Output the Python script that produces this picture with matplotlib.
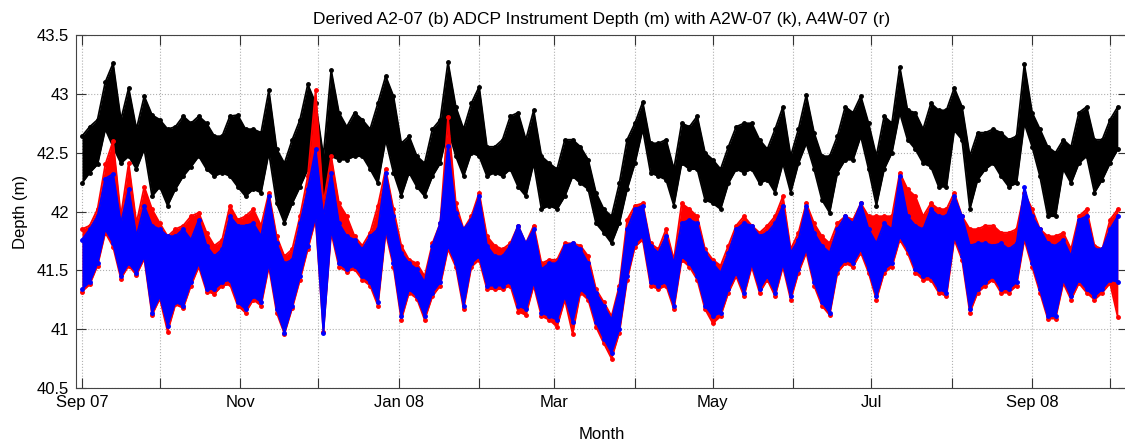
import numpy as np
import matplotlib
matplotlib.use("Agg")
import matplotlib.pyplot as plt

plt.rcParams['font.family'] = ['Liberation Sans', 'DejaVu Sans']

# envelopes (upper / lower) read every 3 days from 1 Sep 2007
start = np.datetime64('2007-09-01')
step_days = 3

# A2W-07 (k)
black_hi = [42.64, 42.72, 42.78, 43.10, 43.26, 42.78, 43.05, 42.70, 42.98, 42.82,
            42.78, 42.70, 42.72, 42.81, 42.75, 42.81, 42.75, 42.64, 42.64, 42.81,
            42.82, 42.70, 42.70, 42.67, 43.03, 42.53, 42.41, 42.61, 42.78, 43.08,
            42.92, 42.47, 43.20, 42.84, 42.72, 42.84, 42.78, 42.70, 42.92, 43.15,
            42.98, 42.58, 42.64, 42.47, 42.41, 42.70, 42.78, 43.27, 42.89, 42.70,
            42.92, 43.06, 42.55, 42.55, 42.61, 42.81, 42.84, 42.61, 42.86, 42.47,
            42.41, 42.36, 42.61, 42.61, 42.55, 42.44, 42.16, 42.02, 41.96, 42.24,
            42.61, 42.75, 42.93, 42.58, 42.58, 42.61, 42.36, 42.75, 42.72, 42.81,
            42.50, 42.44, 42.36, 42.55, 42.72, 42.75, 42.75, 42.61, 42.53, 42.70,
            42.89, 42.47, 42.70, 42.99, 42.67, 42.47, 42.47, 42.64, 42.89, 42.84,
            42.98, 42.75, 42.47, 42.81, 42.75, 43.23, 42.86, 42.84, 42.70, 42.92,
            42.86, 42.86, 43.05, 42.89, 42.47, 42.67, 42.67, 42.70, 42.67, 42.61,
            42.64, 43.25, 42.84, 42.70, 42.55, 42.50, 42.61, 42.55, 42.84, 42.89,
            42.61, 42.61, 42.78, 42.89]
black_lo = [42.24, 42.33, 42.40, 42.70, 42.55, 42.41, 42.47, 42.36, 42.53, 42.13,
            42.21, 42.05, 42.19, 42.30, 42.38, 42.47, 42.36, 42.30, 42.33, 42.30,
            42.21, 42.13, 42.19, 42.16, 42.50, 42.07, 41.90, 42.07, 42.21, 42.36,
            42.33, 42.02, 42.47, 42.44, 42.44, 42.47, 42.47, 42.36, 42.24, 42.61,
            42.33, 42.13, 42.33, 42.21, 42.13, 42.30, 42.41, 42.70, 42.47, 42.30,
            42.50, 42.47, 42.30, 42.33, 42.30, 42.36, 42.21, 42.13, 42.41, 42.02,
            42.05, 42.02, 42.13, 42.30, 42.24, 42.19, 41.90, 41.82, 41.73, 41.90,
            42.19, 42.41, 42.70, 42.33, 42.30, 42.27, 42.05, 42.41, 42.36, 42.36,
            42.10, 42.07, 42.02, 42.24, 42.36, 42.33, 42.36, 42.24, 42.27, 42.16,
            42.41, 42.16, 42.41, 42.58, 42.36, 42.10, 41.99, 42.33, 42.44, 42.44,
            42.64, 42.36, 42.05, 42.36, 42.50, 42.84, 42.61, 42.53, 42.41, 42.38,
            42.21, 42.21, 42.69, 42.61, 42.02, 42.27, 42.36, 42.41, 42.30, 42.21,
            42.24, 42.75, 42.55, 42.30, 41.96, 41.96, 42.36, 42.24, 42.41, 42.47,
            42.16, 42.27, 42.41, 42.53]

# A4W-07 (r)
red_hi = [41.85, 41.88, 42.02, 42.40, 42.60, 41.96, 42.41, 41.90, 42.21, 42.02,
          41.90, 41.79, 41.85, 41.88, 41.96, 41.99, 41.82, 41.71, 41.76, 42.05,
          41.93, 41.96, 42.02, 41.88, 42.16, 41.79, 41.62, 41.68, 41.96, 42.30,
          43.03, 42.07, 42.47, 42.07, 41.96, 41.79, 41.71, 41.82, 42.05, 42.36,
          42.02, 41.71, 41.59, 41.56, 41.45, 41.73, 41.90, 42.80, 42.07, 41.85,
          41.96, 42.16, 41.79, 41.71, 41.68, 41.73, 41.88, 41.73, 41.88, 41.56,
          41.59, 41.59, 41.73, 41.73, 41.71, 41.62, 41.34, 41.23, 41.11, 41.37,
          41.93, 42.05, 42.07, 41.73, 41.68, 41.85, 41.59, 42.07, 42.02, 41.96,
          41.68, 41.59, 41.54, 41.71, 41.88, 41.96, 41.88, 41.82, 41.88, 41.96,
          42.13, 41.68, 41.82, 42.07, 41.90, 41.79, 41.73, 41.90, 41.96, 41.93,
          42.07, 41.96, 41.96, 41.96, 41.96, 42.33, 42.19, 42.13, 41.96, 42.07,
          42.02, 42.02, 42.16, 41.96, 41.85, 41.85, 41.88, 41.88, 41.82, 41.82,
          41.85, 42.16, 42.02, 41.85, 41.79, 41.79, 41.82, 41.68, 41.96, 42.02,
          41.71, 41.68, 41.93, 42.02]
red_lo = [41.32, 41.38, 41.54, 41.82, 41.70, 41.43, 41.54, 41.46, 41.60, 41.12,
          41.26, 40.98, 41.21, 41.18, 41.37, 41.53, 41.32, 41.30, 41.37, 41.38,
          41.20, 41.14, 41.25, 41.20, 41.53, 41.14, 40.96, 41.18, 41.42, 41.68,
          41.93, 40.98, 41.82, 41.53, 41.49, 41.51, 41.42, 41.37, 41.20, 41.82,
          41.53, 41.08, 41.31, 41.26, 41.08, 41.28, 41.37, 41.68, 41.53, 41.17,
          41.53, 41.59, 41.34, 41.34, 41.34, 41.37, 41.15, 41.12, 41.37, 41.11,
          41.08, 41.02, 41.25, 40.96, 41.31, 41.25, 41.02, 40.88, 40.75, 40.97,
          41.42, 41.70, 41.76, 41.37, 41.34, 41.37, 41.17, 41.59, 41.53, 41.42,
          41.17, 41.05, 41.11, 41.31, 41.45, 41.28, 41.53, 41.31, 41.42, 41.28,
          41.53, 41.25, 41.48, 41.65, 41.37, 41.20, 41.12, 41.48, 41.56, 41.53,
          41.65, 41.48, 41.25, 41.48, 41.53, 41.76, 41.65, 41.48, 41.42, 41.42,
          41.31, 41.28, 41.76, 41.59, 41.14, 41.31, 41.37, 41.42, 41.31, 41.31,
          41.37, 41.76, 41.53, 41.31, 41.09, 41.09, 41.39, 41.25, 41.39, 41.31,
          41.25, 41.31, 41.39, 41.10]

# A2-07 (b) derived ADCP depth
blue_hi = [41.76, 41.85, 41.96, 42.28, 42.32, 41.90, 42.19, 41.79, 42.05, 41.88,
           41.85, 41.79, 41.79, 41.85, 41.76, 41.93, 41.71, 41.62, 41.68, 41.96,
           41.88, 41.88, 41.90, 41.79, 42.13, 41.73, 41.56, 41.59, 41.90, 42.19,
           42.53, 41.96, 42.33, 41.90, 41.79, 41.76, 41.68, 41.79, 41.85, 42.33,
           41.96, 41.65, 41.56, 41.51, 41.40, 41.71, 41.90, 42.56, 41.99, 41.85,
           41.93, 42.13, 41.71, 41.62, 41.62, 41.71, 41.88, 41.73, 41.85, 41.51,
           41.56, 41.56, 41.71, 41.73, 41.68, 41.56, 41.31, 41.20, 41.08, 41.34,
           41.85, 42.02, 42.05, 41.71, 41.65, 41.79, 41.56, 41.90, 41.93, 41.90,
           41.65, 41.56, 41.48, 41.65, 41.85, 41.90, 41.88, 41.79, 41.82, 41.90,
           42.05, 41.65, 41.76, 42.05, 41.82, 41.71, 41.65, 41.85, 41.96, 41.90,
           42.07, 41.85, 41.73, 41.90, 41.85, 42.30, 41.96, 41.88, 41.85, 42.02,
           41.96, 41.96, 42.13, 41.96, 41.71, 41.73, 41.73, 41.71, 41.73, 41.68,
           41.73, 42.21, 41.96, 41.85, 41.73, 41.71, 41.76, 41.62, 41.93, 41.96,
           41.68, 41.68, 41.85, 41.96]
blue_lo = [41.34, 41.40, 41.56, 41.85, 41.73, 41.45, 41.56, 41.48, 41.62, 41.14,
           41.28, 41.03, 41.23, 41.20, 41.40, 41.56, 41.34, 41.34, 41.40, 41.42,
           41.23, 41.17, 41.28, 41.23, 41.56, 41.17, 40.97, 41.20, 41.45, 41.71,
           41.96, 40.97, 41.85, 41.56, 41.51, 41.54, 41.45, 41.40, 41.23, 41.85,
           41.56, 41.11, 41.34, 41.28, 41.11, 41.31, 41.40, 41.71, 41.56, 41.20,
           41.56, 41.62, 41.37, 41.37, 41.37, 41.40, 41.20, 41.17, 41.40, 41.14,
           41.11, 41.08, 41.28, 41.06, 41.34, 41.28, 41.06, 40.92, 40.80, 41.00,
           41.45, 41.73, 41.79, 41.40, 41.37, 41.40, 41.20, 41.62, 41.56, 41.45,
           41.20, 41.11, 41.14, 41.34, 41.48, 41.31, 41.56, 41.34, 41.45, 41.31,
           41.56, 41.28, 41.51, 41.68, 41.40, 41.23, 41.14, 41.51, 41.59, 41.56,
           41.68, 41.51, 41.28, 41.51, 41.56, 41.79, 41.68, 41.51, 41.45, 41.45,
           41.34, 41.31, 41.79, 41.62, 41.17, 41.34, 41.40, 41.45, 41.34, 41.34,
           41.40, 41.79, 41.56, 41.34, 41.11, 41.11, 41.42, 41.28, 41.42, 41.34,
           41.28, 41.34, 41.42, 41.40]

tick_months = ['2007-09', '2007-10', '2007-11', '2007-12', '2008-01', '2008-02', '2008-03',
               '2008-04', '2008-05', '2008-06', '2008-07', '2008-08', '2008-09', '2008-10']
tick_labels = ['Sep 07', '', 'Nov', '', 'Jan 08', '', 'Mar', '', 'May', '', 'Jul', '', 'Sep 08', '']
yticks = [40.5, 41, 41.5, 42, 42.5, 43, 43.5]

days = np.arange(len(black_hi)) * step_days
t = start + days.astype('timedelta64[D]')

fig = plt.figure(figsize=(11.25, 4.43), dpi=100)
ax = fig.add_axes([76 / 1125, 1 - 388 / 443, 1052 / 1125, 353 / 443])

for hi, lo, c in [(black_hi, black_lo, 'black'),
                  (red_hi, red_lo, '#ff0000'),
                  (blue_hi, blue_lo, '#0000ff')]:
    ax.fill_between(t, lo, hi, color=c, lw=0, zorder=3)
    ax.plot(t, hi, '.-', color=c, ms=5, lw=1.3, zorder=3)
    ax.plot(t, lo, '.-', color=c, ms=5, lw=1.3, zorder=3)

ax.set_xlim(start - np.timedelta64(55, 'h'), np.datetime64('2008-10-01') + np.timedelta64(166, 'h'))
ax.set_ylim(40.5, 43.5)
ax.set_xticks([np.datetime64(m + '-01') for m in tick_months])
ax.set_xticklabels(tick_labels)
ax.set_yticks(yticks)
ax.set_yticklabels([f'{v:g}' for v in yticks])
ax.tick_params(direction='in', top=True, right=True, length=7, width=0.8,
               labelsize=12, colors='#333333', labelcolor='black', pad=5)
ax.grid(True, linestyle=':', color='#b0b0b0', lw=0.8)
for s in ax.spines.values():
    s.set_color('#444444')
    s.set_linewidth(0.8)

ax.set_title('Derived A2-07 (b) ADCP Instrument Depth (m) with A2W-07 (k), A4W-07 (r)',
             fontsize=12.5, pad=8)
ax.set_xlabel('Month', fontsize=12, labelpad=12)
ax.set_ylabel('Depth (m)', fontsize=12, labelpad=6)

fig.savefig('out.png', dpi=100)
